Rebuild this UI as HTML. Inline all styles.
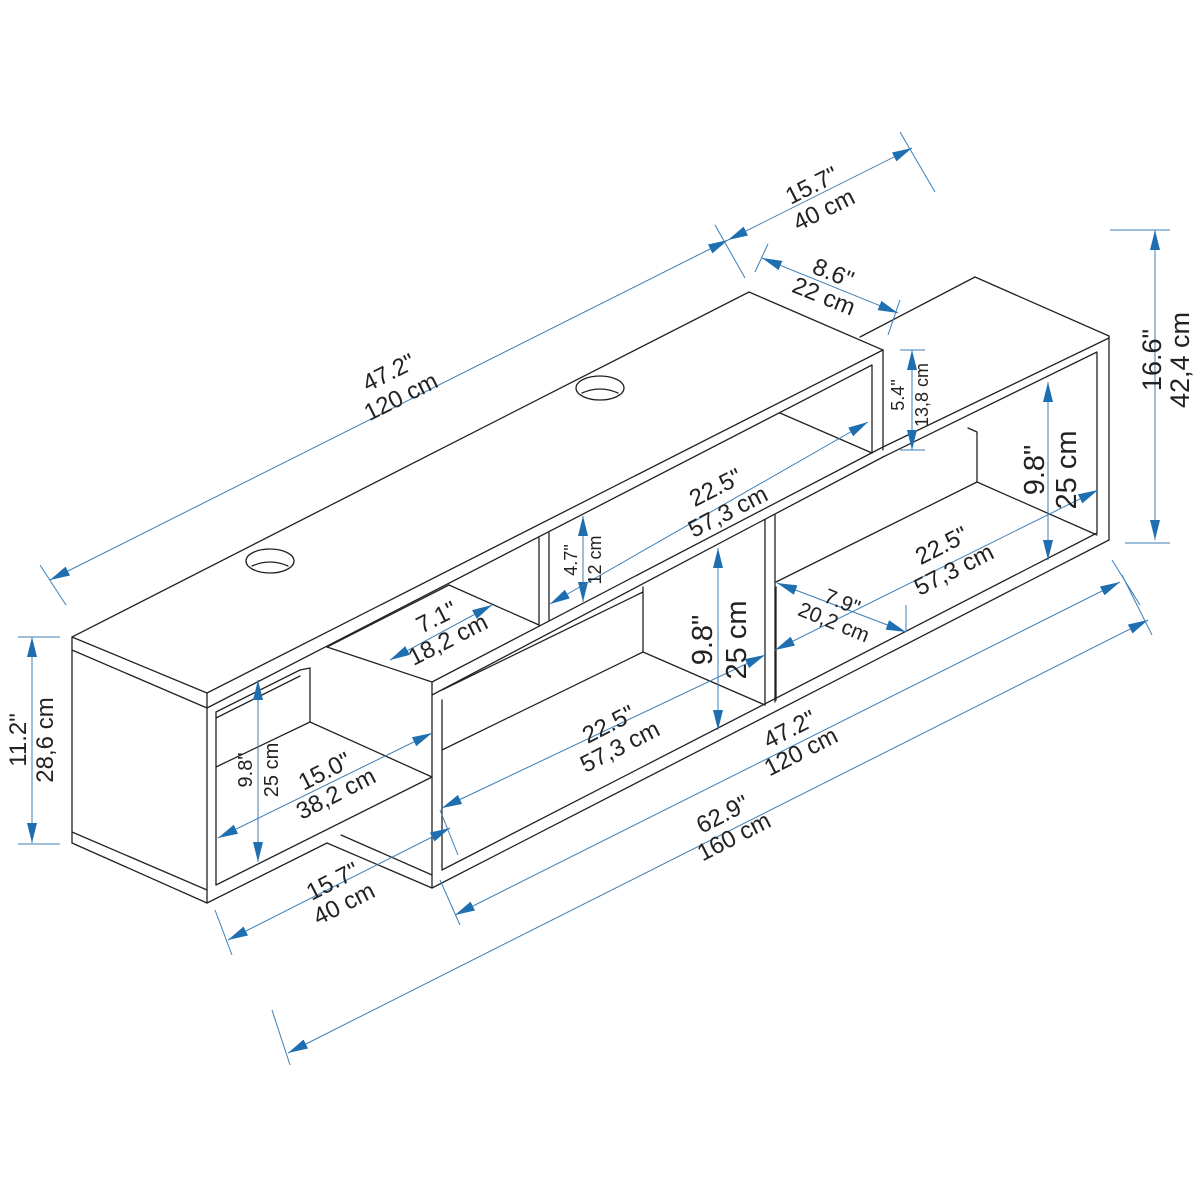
<!DOCTYPE html>
<html><head><meta charset="utf-8"><style>
html,body{margin:0;padding:0;background:#fff}
svg{display:block}
text{font-family:"Liberation Sans",Arial,sans-serif;fill:#222}
</style></head><body>
<svg width="1200" height="1200" viewBox="0 0 1200 1200" xmlns="http://www.w3.org/2000/svg">
<defs>
<marker id="a" viewBox="0 0 20 10" refX="20" refY="5" markerWidth="20" markerHeight="10" markerUnits="userSpaceOnUse" orient="auto-start-reverse">
<path d="M0,0 L20,5 L0,10 Z" fill="#1f6fb0"/>
</marker>
</defs>
<g stroke="#222" stroke-width="1.3" fill="none" stroke-linecap="round">
<polyline points="72,637 749,292 883,350 207,693 72,637"/>
<polyline points="72,637 72,843"/>
<line x1="72" y1="650" x2="207" y2="708"/>
<line x1="207" y1="693" x2="207" y2="903"/>
<line x1="207" y1="708" x2="872" y2="365"/>
<line x1="883" y1="350" x2="883" y2="450"/>
<line x1="872" y1="365" x2="872" y2="453"/>
<line x1="780" y1="413" x2="872" y2="453"/>
<ellipse cx="270" cy="561" rx="24" ry="12"/>
<path d="M252,566 Q270,558 288,566"/>
<ellipse cx="600" cy="388" rx="24" ry="12"/>
<path d="M582,393 Q600,385 618,393"/>
<line x1="216" y1="712" x2="216" y2="885"/>
<line x1="72" y1="832" x2="207" y2="890"/>
<line x1="72" y1="843" x2="207" y2="903"/>
<line x1="207" y1="903" x2="327" y2="843"/>
<line x1="216" y1="885" x2="432" y2="777"/>
<line x1="216" y1="767" x2="310" y2="722"/>
<line x1="310" y1="722" x2="432" y2="777"/>
<line x1="310" y1="668" x2="310" y2="722"/>
<line x1="216" y1="718" x2="300" y2="676"/>
<line x1="216" y1="712" x2="300" y2="670"/>
<line x1="300" y1="670" x2="310" y2="668"/>
<line x1="327" y1="843" x2="432" y2="888"/>
<line x1="341" y1="835" x2="432" y2="875"/>
<line x1="327" y1="647" x2="432" y2="682"/>
<line x1="327" y1="647" x2="449" y2="585"/>
<line x1="449" y1="585" x2="539" y2="625"/>
<line x1="539" y1="538" x2="539" y2="625"/>
<line x1="549" y1="533" x2="549" y2="620"/>
<line x1="432" y1="682" x2="432" y2="888"/>
<line x1="432" y1="682" x2="883" y2="447"/>
<line x1="432" y1="695" x2="883" y2="457"/>
<line x1="442" y1="700" x2="442" y2="870"/>
<line x1="442" y1="690" x2="643" y2="592"/>
<line x1="442" y1="750" x2="643" y2="652"/>
<line x1="643" y1="587" x2="643" y2="652"/>
<line x1="643" y1="652" x2="765" y2="705"/>
<line x1="765" y1="520" x2="765" y2="705"/>
<line x1="775" y1="515" x2="775" y2="702"/>
<line x1="432" y1="888" x2="1109" y2="540"/>
<line x1="442" y1="870" x2="1097" y2="533"/>
<line x1="860" y1="337" x2="975" y2="277"/>
<line x1="975" y1="277" x2="1109" y2="336"/>
<line x1="1109" y1="336" x2="1109" y2="540"/>
<line x1="1097" y1="353" x2="1097" y2="533"/>
<line x1="1109" y1="338" x2="883" y2="447"/>
<line x1="1097" y1="352" x2="883" y2="457"/>
<line x1="968" y1="428" x2="977" y2="432"/>
<line x1="977" y1="432" x2="977" y2="482"/>
<line x1="977" y1="482" x2="1097" y2="535"/>
<line x1="776" y1="582" x2="977" y2="482"/>
<line x1="776" y1="587" x2="776" y2="700"/>
</g>
<g stroke="#3b7fb8" stroke-width="1" fill="none">
<line x1="50" y1="580" x2="728" y2="240" marker-start="url(#a)" marker-end="url(#a)"/>
<line x1="40" y1="565" x2="66" y2="605"/><line x1="715" y1="225" x2="745" y2="278"/>
<line x1="728" y1="240" x2="912" y2="148" marker-start="url(#a)" marker-end="url(#a)"/>
<line x1="900" y1="132" x2="935" y2="192"/>
<line x1="762" y1="258" x2="898" y2="313" marker-start="url(#a)" marker-end="url(#a)"/>
<line x1="768" y1="244" x2="755" y2="272"/><line x1="900" y1="300" x2="888" y2="335"/>
<line x1="1155" y1="230" x2="1155" y2="540" marker-start="url(#a)" marker-end="url(#a)"/>
<line x1="1110" y1="230" x2="1170" y2="230"/><line x1="1125" y1="543" x2="1170" y2="543"/>
<line x1="32" y1="637" x2="32" y2="843" marker-start="url(#a)" marker-end="url(#a)"/>
<line x1="18" y1="637" x2="60" y2="637"/><line x1="18" y1="844" x2="60" y2="844"/>
<line x1="912" y1="350" x2="912" y2="450" marker-start="url(#a)" marker-end="url(#a)"/>
<line x1="900" y1="350" x2="925" y2="350"/><line x1="900" y1="450" x2="925" y2="450"/>
<line x1="583" y1="516" x2="583" y2="602" marker-start="url(#a)" marker-end="url(#a)"/>
<line x1="1048" y1="382" x2="1048" y2="560" marker-start="url(#a)" marker-end="url(#a)"/>
<line x1="718" y1="548" x2="718" y2="730" marker-start="url(#a)" marker-end="url(#a)"/>
<line x1="258" y1="680" x2="258" y2="862" marker-start="url(#a)" marker-end="url(#a)"/>
<line x1="550" y1="604" x2="868" y2="422" marker-start="url(#a)" marker-end="url(#a)"/>
<line x1="775" y1="650" x2="1098" y2="490" marker-start="url(#a)" marker-end="url(#a)"/>
<line x1="777" y1="583" x2="906" y2="632" marker-start="url(#a)" marker-end="url(#a)"/>
<line x1="906" y1="605" x2="906" y2="632"/>
<line x1="390" y1="660" x2="492" y2="605" marker-start="url(#a)" marker-end="url(#a)"/>
<line x1="218" y1="838" x2="432" y2="733" marker-start="url(#a)" marker-end="url(#a)"/>
<line x1="442" y1="808" x2="765" y2="655" marker-start="url(#a)" marker-end="url(#a)"/>
<line x1="228" y1="940" x2="450" y2="828" marker-start="url(#a)" marker-end="url(#a)"/>
<line x1="215" y1="910" x2="232" y2="955"/><line x1="440" y1="810" x2="458" y2="855"/>
<line x1="455" y1="915" x2="1120" y2="582" marker-start="url(#a)" marker-end="url(#a)"/>
<line x1="440" y1="880" x2="460" y2="925"/><line x1="1112" y1="560" x2="1140" y2="605"/>
<line x1="288" y1="1053" x2="1148" y2="620" marker-start="url(#a)" marker-end="url(#a)"/>
<line x1="272" y1="1010" x2="290" y2="1065"/><line x1="1122" y1="575" x2="1152" y2="635"/>
</g>
<g font-size="24" text-anchor="middle">
<g transform="translate(395,385) rotate(-26.6)"><text y="-6">47.2"</text><text y="21">120 cm</text></g>
<g transform="translate(818,198) rotate(-26.6)"><text y="-6">15.7"</text><text y="21">40 cm</text></g>
<g transform="translate(828,286) rotate(22)"><text y="-6">8.6"</text><text y="19">22 cm</text></g>
<g transform="translate(1165,360) rotate(-90)"><text y="-4" font-size="27">16.6"</text><text y="24" font-size="27">42,4 cm</text></g>
<g transform="translate(30,740) rotate(-90)"><text y="-4">11.2"</text><text y="23">28,6 cm</text></g>
<g transform="translate(910,395) rotate(-90)"><text y="-6" font-size="18">5.4"</text><text y="18" font-size="18">13,8 cm</text></g>
<g transform="translate(583,560) rotate(-90)"><text y="-6" font-size="18">4.7"</text><text y="18" font-size="18">12 cm</text></g>
<g transform="translate(1050,470) rotate(-90)"><text y="-6" font-size="29">9.8"</text><text y="26" font-size="29">25 cm</text></g>
<g transform="translate(720,640) rotate(-90)"><text y="-8" font-size="29">9.8"</text><text y="26" font-size="29">25 cm</text></g>
<g transform="translate(258,770) rotate(-90)"><text y="-6" font-size="20">9.8"</text><text y="20" font-size="20">25 cm</text></g>
<g transform="translate(722,500) rotate(-27)"><text y="-6">22.5"</text><text y="21">57,3 cm</text></g>
<g transform="translate(948,558) rotate(-27)"><text y="-6">22.5"</text><text y="21">57,3 cm</text></g>
<g transform="translate(838,612) rotate(22)"><text y="-4" font-size="21">7.9"</text><text y="18" font-size="21">20,2 cm</text></g>
<g transform="translate(442,628) rotate(-27)"><text y="-4">7.1"</text><text y="21">18,2 cm</text></g>
<g transform="translate(330,782) rotate(-27)"><text y="-4">15.0"</text><text y="21">38,2 cm</text></g>
<g transform="translate(614,735) rotate(-27)"><text y="-4">22.5"</text><text y="21">57,3 cm</text></g>
<g transform="translate(338,892) rotate(-27)"><text y="-4">15.7"</text><text y="21">40 cm</text></g>
<g transform="translate(795,740) rotate(-27)"><text y="-4">47.2"</text><text y="21">120 cm</text></g>
<g transform="translate(728,825) rotate(-27)"><text y="-4">62.9"</text><text y="21">160 cm</text></g>
</g>
</svg>
</body></html>
